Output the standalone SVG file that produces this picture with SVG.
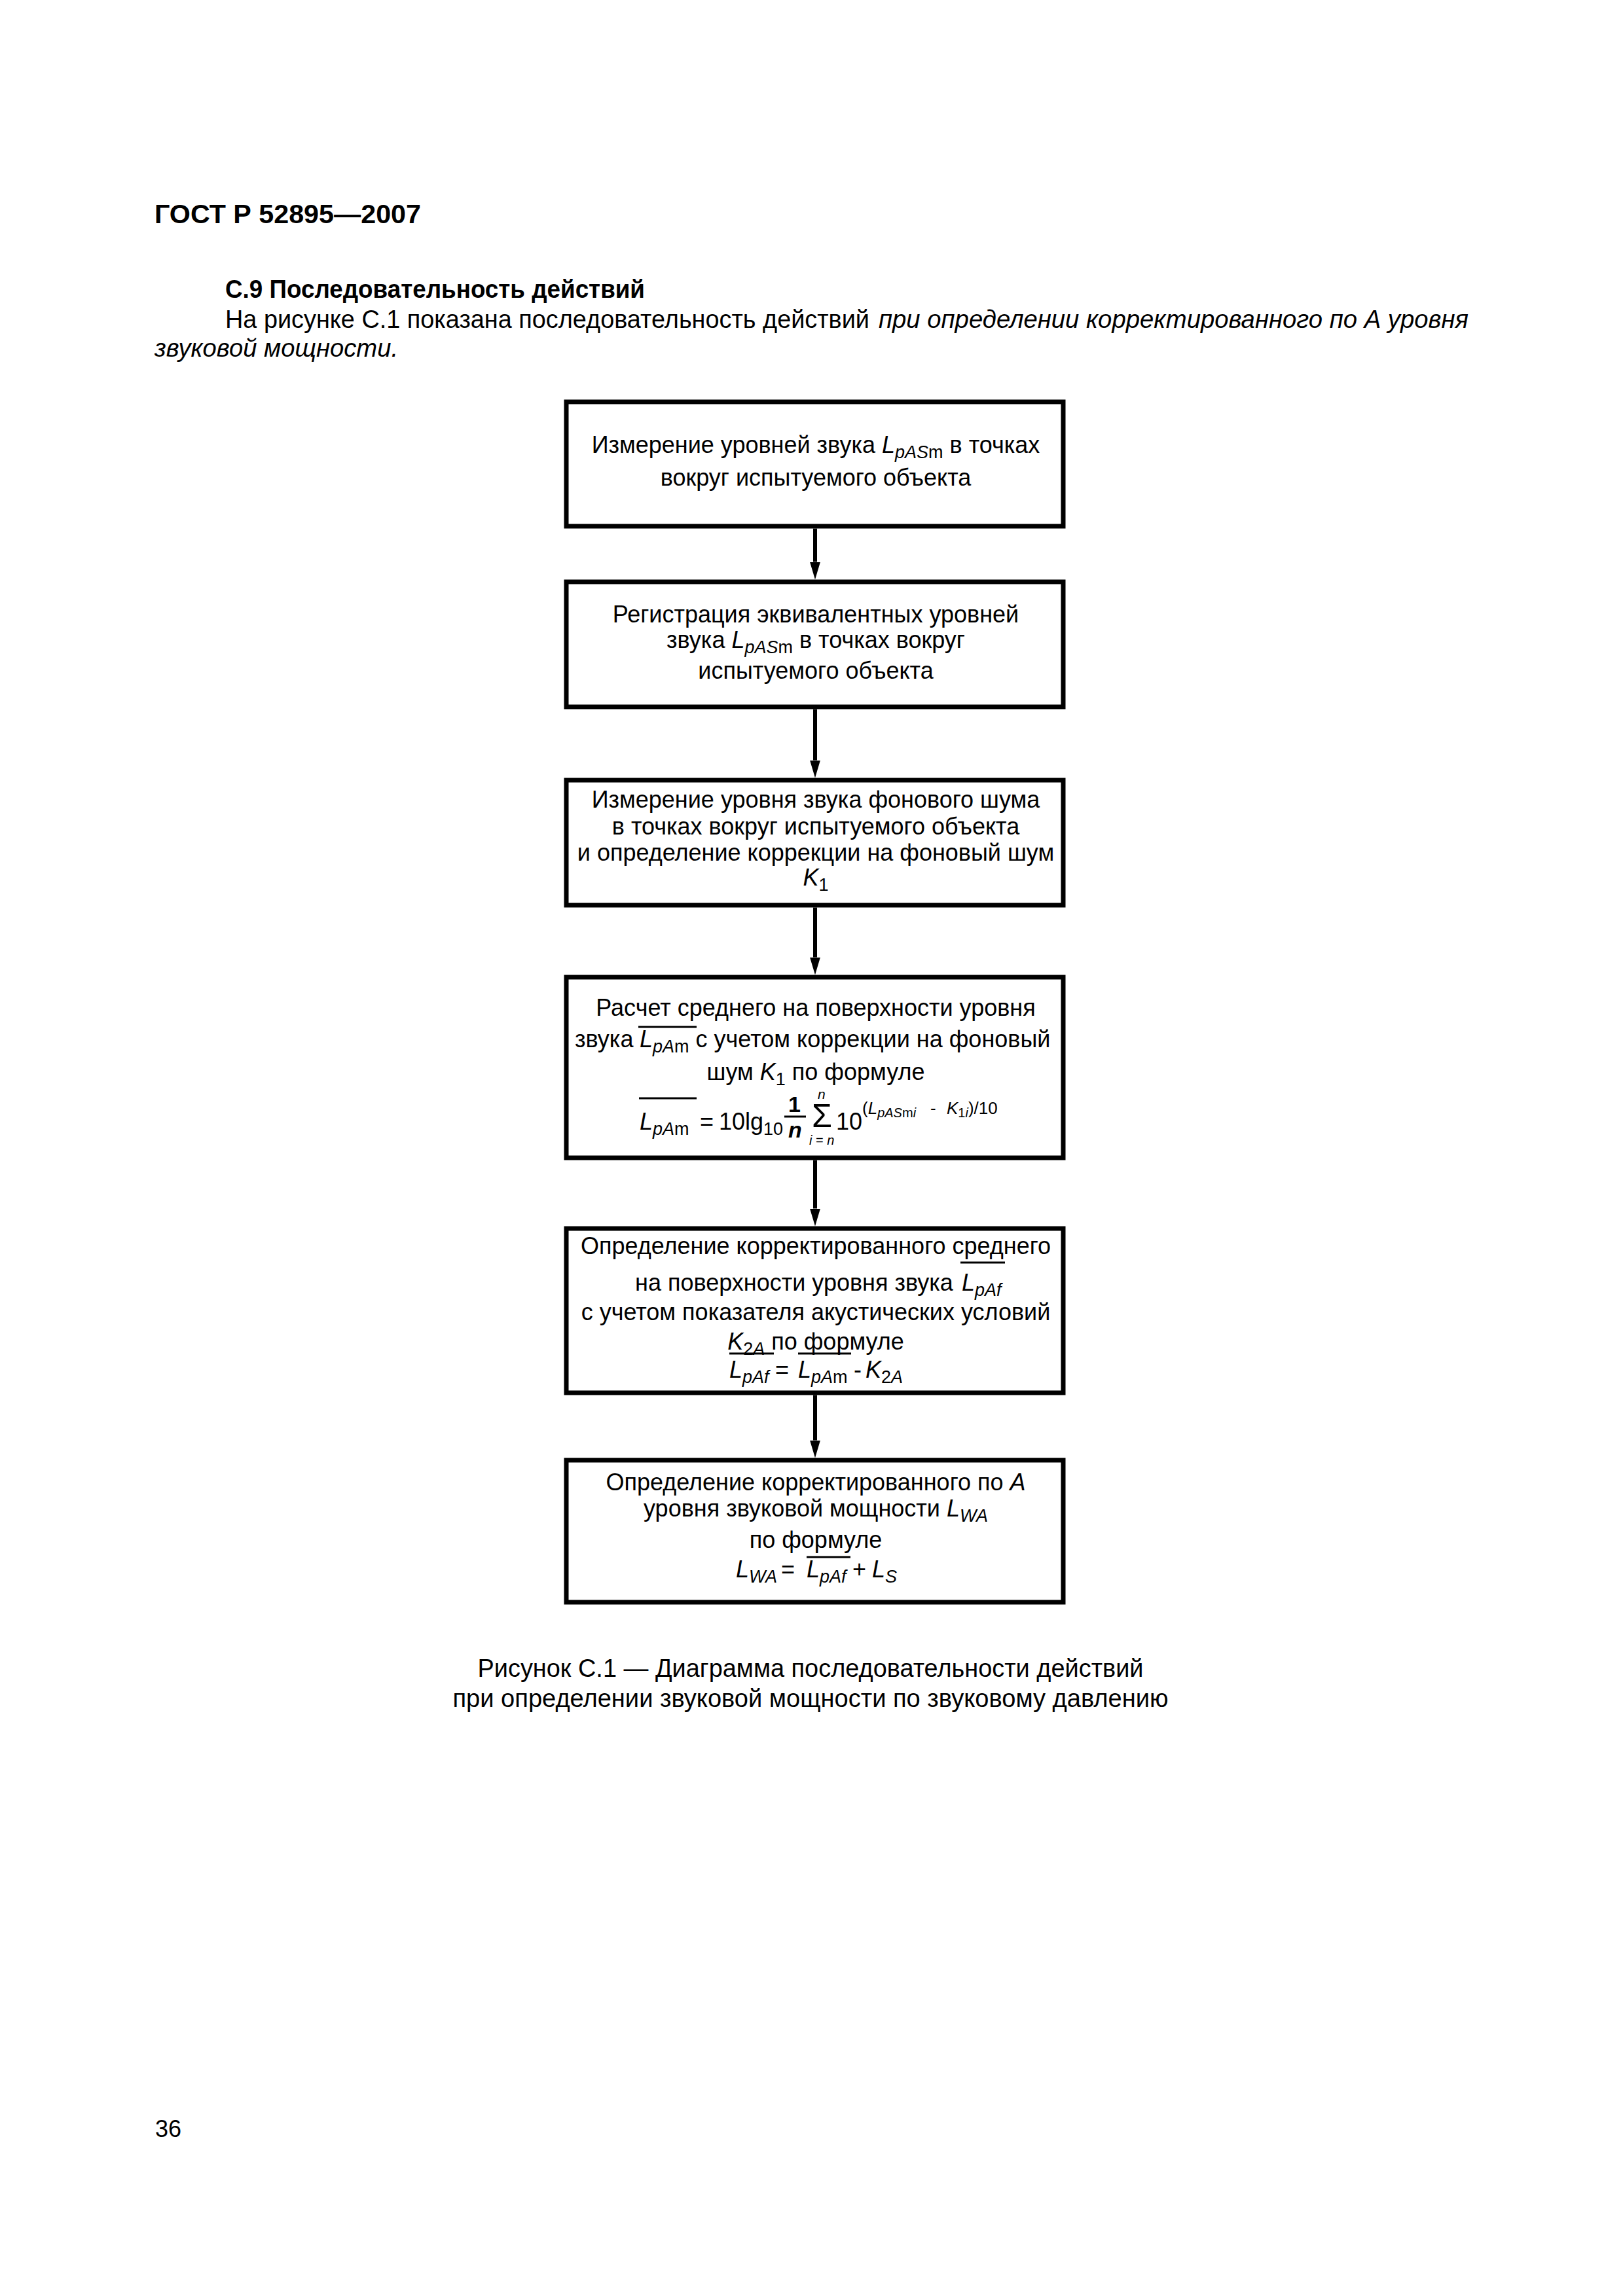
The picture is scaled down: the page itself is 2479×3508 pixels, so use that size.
<svg xmlns="http://www.w3.org/2000/svg" width="2479" height="3508" viewBox="0 0 2479 3508">
<style>
text { font-family: "Liberation Sans", Arial, sans-serif; fill: #000; }
.t { font-size: 36px; }
.m { text-anchor: middle; }
.i { font-style: italic; }
.s { font-size: 27px; }
.b { font-weight: bold; }
.box { fill: #fff; stroke: #000; stroke-width: 7; }
.ov { stroke: #000; stroke-width: 3; }
#connectors line { stroke: #000; stroke-width: 6; }
</style>
<defs>
<marker id="arr" markerUnits="userSpaceOnUse" markerWidth="28" markerHeight="17" refX="0" refY="8" orient="auto">
<path d="M0,0 L27,8 L0,16 Z" fill="#000"/>
</marker>
</defs>
<rect width="2479" height="3508" fill="#fff"/>

<g id="header">
<text x="236" y="341" class="b" font-size="41" textLength="407" lengthAdjust="spacingAndGlyphs">ГОСТ Р 52895—2007</text>
<text x="344" y="455" class="b" font-size="38" textLength="641" lengthAdjust="spacingAndGlyphs">С.9 Последовательность действий</text>
<text x="344" y="501" font-size="38" textLength="984" lengthAdjust="spacingAndGlyphs">На рисунке С.1 показана последовательность действий</text>
<text x="1342" y="501" font-size="38" class="i" textLength="901" lengthAdjust="spacingAndGlyphs">при определении корректированного по А уровня</text>
<text x="236" y="545" font-size="38" class="i" textLength="372" lengthAdjust="spacingAndGlyphs">звуковой мощности.</text>
</g>

<g id="connectors">
<line x1="1245" y1="807.5" x2="1245" y2="858.5" marker-end="url(#arr)"/>
<line x1="1245" y1="1083.5" x2="1245" y2="1161.5" marker-end="url(#arr)"/>
<line x1="1245" y1="1386.5" x2="1245" y2="1462.5" marker-end="url(#arr)"/>
<line x1="1245" y1="1772.5" x2="1245" y2="1846.5" marker-end="url(#arr)"/>
<line x1="1245" y1="2131.5" x2="1245" y2="2200.5" marker-end="url(#arr)"/>
</g>

<g id="node1">
<rect class="box" x="865" y="614" width="759" height="190"/>
<text class="t m" x="1246" y="692">Измерение уровней звука <tspan class="i">L</tspan><tspan class="s i" dy="8">pAS</tspan><tspan class="s">m</tspan><tspan dy="-8"> в точках</tspan></text>
<text class="t m" x="1246" y="742">вокруг испытуемого объекта</text>
</g>

<g id="node2">
<rect class="box" x="865" y="889" width="759" height="191"/>
<text class="t m" x="1246" y="951">Регистрация эквивалентных уровней</text>
<text class="t m" x="1246" y="990">звука <tspan class="i">L</tspan><tspan class="s i" dy="8">pAS</tspan><tspan class="s">m</tspan><tspan dy="-8"> в точках вокруг</tspan></text>
<text class="t m" x="1246" y="1037">испытуемого объекта</text>
</g>

<g id="node3">
<rect class="box" x="865" y="1192" width="759" height="191"/>
<text class="t m" x="1246" y="1234">Измерение уровня звука фонового шума</text>
<text class="t m" x="1246" y="1275">в точках вокруг испытуемого объекта</text>
<text class="t m" x="1246" y="1315">и определение коррекции на фоновый шум</text>
<text class="t m" x="1246" y="1353"><tspan class="i">K</tspan><tspan class="s" dy="8">1</tspan></text>
</g>

<g id="node4">
<rect class="box" x="865" y="1493" width="759" height="276"/>
<text class="t m" x="1246" y="1552">Расчет среднего на поверхности уровня</text>
<text class="t" x="878" y="1600">звука <tspan x="977" class="i">L</tspan><tspan class="s i" dy="8">pA</tspan><tspan class="s">m</tspan><tspan dy="-8"> с учетом коррекции на фоновый</tspan></text>
<line class="ov" x1="975" y1="1569" x2="1064" y2="1569"/>
<text class="t m" x="1246" y="1650">шум <tspan class="i">K</tspan><tspan class="s" dy="8">1</tspan><tspan dy="-8"> по формуле</tspan></text>
<line class="ov" x1="976" y1="1678" x2="1064" y2="1678"/>
<text class="t" x="977" y="1726"><tspan class="i">L</tspan><tspan class="s i" dy="8">pA</tspan><tspan class="s">m</tspan><tspan dy="-8" x="1069">=</tspan><tspan x="1098">10lg</tspan><tspan class="s" dy="8">10</tspan></text>
<text class="b" font-size="34"><tspan x="1204" y="1699">1</tspan><tspan x="1204" y="1738" class="i">n</tspan></text>
<line class="ov" x1="1198" y1="1706" x2="1231" y2="1706"/>
<text font-size="21"><tspan x="1249" y="1679" class="i">n</tspan><tspan x="1240" y="1722" font-size="50">Σ</tspan><tspan x="1236" y="1749" font-size="20" class="i">i</tspan><tspan font-size="20"> = </tspan><tspan font-size="20" class="i">n</tspan></text>
<text class="t" x="1277" y="1726">10</text>
<text y="1702" font-size="26"><tspan x="1317">(</tspan><tspan class="i">L</tspan><tspan class="i" font-size="20" dy="5">pAS</tspan><tspan font-size="20">m</tspan><tspan font-size="20" class="i">i</tspan><tspan dy="-5" x="1421">-</tspan><tspan x="1446" class="i">K</tspan><tspan font-size="20" dy="5">1</tspan><tspan font-size="20" class="i">i</tspan><tspan dy="-5">)/10</tspan></text>
</g>

<g id="node5">
<rect class="box" x="865" y="1877" width="759" height="251"/>
<text class="t m" x="1246" y="1916">Определение корректированного среднего</text>
<text class="t" x="970" y="1972">на поверхности уровня звука <tspan x="1469" class="i">L</tspan><tspan class="s i" dy="8">pAf</tspan></text>
<line class="ov" x1="1467" y1="1929" x2="1535" y2="1929"/>
<text class="t m" x="1246" y="2017">с учетом показателя акустических условий</text>
<text class="t m" x="1246" y="2062"><tspan class="i">K</tspan><tspan class="s" dy="8">2</tspan><tspan class="s i">A</tspan><tspan dy="-8"> по формуле</tspan></text>
<line class="ov" x1="1114" y1="2068" x2="1182" y2="2068"/>
<line class="ov" x1="1219" y1="2068" x2="1300" y2="2068"/>
<text class="t" x="1114" y="2105"><tspan class="i">L</tspan><tspan class="s i" dy="8">pAf</tspan><tspan dy="-8" x="1184">=</tspan><tspan x="1219" class="i">L</tspan><tspan class="s i" dy="8">pA</tspan><tspan class="s">m</tspan><tspan dy="-8" x="1304">-</tspan><tspan x="1322" class="i">K</tspan><tspan class="s" dy="8">2</tspan><tspan class="s i">A</tspan></text>
</g>

<g id="node6">
<rect class="box" x="865" y="2231" width="759" height="217"/>
<text class="t m" x="1246" y="2277">Определение корректированного по <tspan class="i">A</tspan></text>
<text class="t m" x="1246" y="2317">уровня звуковой мощности <tspan class="i">L</tspan><tspan class="s i" dy="8">WA</tspan></text>
<text class="t m" x="1246" y="2365">по формуле</text>
<line class="ov" x1="1232" y1="2379" x2="1299" y2="2379"/>
<text class="t" x="1124" y="2410"><tspan class="i">L</tspan><tspan class="s i" dy="8">WA</tspan><tspan dy="-8" x="1193">=</tspan><tspan x="1232" class="i">L</tspan><tspan class="s i" dy="8">pAf</tspan><tspan dy="-8" x="1302">+</tspan><tspan x="1332" class="i">L</tspan><tspan class="s i" dy="8">S</tspan></text>
</g>

<g id="caption">
<text x="1238" y="2562" font-size="38" class="m" textLength="1017" lengthAdjust="spacingAndGlyphs">Рисунок С.1 — Диаграмма последовательности действий</text>
<text x="1238" y="2608" font-size="38" class="m" textLength="1093" lengthAdjust="spacingAndGlyphs">при определении звуковой мощности по звуковому давлению</text>
</g>

<g id="footer">
<text x="237" y="3265" font-size="36">36</text>
</g>
</svg>
